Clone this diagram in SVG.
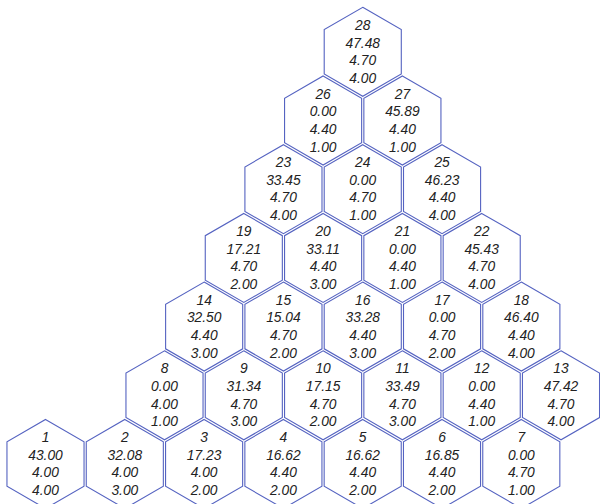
<svg xmlns="http://www.w3.org/2000/svg" xmlns:xlink="http://www.w3.org/1999/xlink" width="600" height="504" viewBox="0 0 600 504">
<style>
.h{fill:#fff;stroke:#5563c1;stroke-width:1.1}
text{font-family:"Liberation Sans",Arial,sans-serif;font-style:italic;font-size:13.8px;fill:#222;text-anchor:middle}
</style>
<defs>
<polygon id="hex" points="0,-44.5 38.54,-22.25 38.54,22.25 0,44.5 -38.54,22.25 -38.54,-22.25"/>
</defs>
<rect width="600" height="504" fill="#fff"/>
<g id="n1" transform="translate(45.5,464)"><use href="#hex" class="h"/><text y="-22">1</text><text y="-4.3">43.00</text><text y="13.3">4.00</text><text y="31">4.00</text></g>
<g id="n2" transform="translate(124.8,464)"><use href="#hex" class="h"/><text y="-22">2</text><text y="-4.3">32.08</text><text y="13.3">4.00</text><text y="31">3.00</text></g>
<g id="n3" transform="translate(204.1,464)"><use href="#hex" class="h"/><text y="-22">3</text><text y="-4.3">17.23</text><text y="13.3">4.00</text><text y="31">2.00</text></g>
<g id="n4" transform="translate(283.4,464)"><use href="#hex" class="h"/><text y="-22">4</text><text y="-4.3">16.62</text><text y="13.3">4.40</text><text y="31">2.00</text></g>
<g id="n5" transform="translate(362.7,464)"><use href="#hex" class="h"/><text y="-22">5</text><text y="-4.3">16.62</text><text y="13.3">4.40</text><text y="31">2.00</text></g>
<g id="n6" transform="translate(442,464)"><use href="#hex" class="h"/><text y="-22">6</text><text y="-4.3">16.85</text><text y="13.3">4.40</text><text y="31">2.00</text></g>
<g id="n7" transform="translate(521.3,464)"><use href="#hex" class="h"/><text y="-22">7</text><text y="-4.3">0.00</text><text y="13.3">4.70</text><text y="31">1.00</text></g>
<g id="n8" transform="translate(164.5,395.3)"><use href="#hex" class="h"/><text y="-22">8</text><text y="-4.3">0.00</text><text y="13.3">4.00</text><text y="31">1.00</text></g>
<g id="n9" transform="translate(243.8,395.3)"><use href="#hex" class="h"/><text y="-22">9</text><text y="-4.3">31.34</text><text y="13.3">4.70</text><text y="31">3.00</text></g>
<g id="n10" transform="translate(323.1,395.3)"><use href="#hex" class="h"/><text y="-22">10</text><text y="-4.3">17.15</text><text y="13.3">4.70</text><text y="31">2.00</text></g>
<g id="n11" transform="translate(402.4,395.3)"><use href="#hex" class="h"/><text y="-22">11</text><text y="-4.3">33.49</text><text y="13.3">4.70</text><text y="31">3.00</text></g>
<g id="n12" transform="translate(481.7,395.3)"><use href="#hex" class="h"/><text y="-22">12</text><text y="-4.3">0.00</text><text y="13.3">4.40</text><text y="31">1.00</text></g>
<g id="n13" transform="translate(561,395.3)"><use href="#hex" class="h"/><text y="-22">13</text><text y="-4.3">47.42</text><text y="13.3">4.70</text><text y="31">4.00</text></g>
<g id="n14" transform="translate(204.15,326.6)"><use href="#hex" class="h"/><text y="-22">14</text><text y="-4.3">32.50</text><text y="13.3">4.40</text><text y="31">3.00</text></g>
<g id="n15" transform="translate(283.45,326.6)"><use href="#hex" class="h"/><text y="-22">15</text><text y="-4.3">15.04</text><text y="13.3">4.70</text><text y="31">2.00</text></g>
<g id="n16" transform="translate(362.75,326.6)"><use href="#hex" class="h"/><text y="-22">16</text><text y="-4.3">33.28</text><text y="13.3">4.40</text><text y="31">3.00</text></g>
<g id="n17" transform="translate(442.05,326.6)"><use href="#hex" class="h"/><text y="-22">17</text><text y="-4.3">0.00</text><text y="13.3">4.70</text><text y="31">2.00</text></g>
<g id="n18" transform="translate(521.35,326.6)"><use href="#hex" class="h"/><text y="-22">18</text><text y="-4.3">46.40</text><text y="13.3">4.40</text><text y="31">4.00</text></g>
<g id="n19" transform="translate(243.8,257.9)"><use href="#hex" class="h"/><text y="-22">19</text><text y="-4.3">17.21</text><text y="13.3">4.70</text><text y="31">2.00</text></g>
<g id="n20" transform="translate(323.1,257.9)"><use href="#hex" class="h"/><text y="-22">20</text><text y="-4.3">33.11</text><text y="13.3">4.40</text><text y="31">3.00</text></g>
<g id="n21" transform="translate(402.4,257.9)"><use href="#hex" class="h"/><text y="-22">21</text><text y="-4.3">0.00</text><text y="13.3">4.40</text><text y="31">1.00</text></g>
<g id="n22" transform="translate(481.7,257.9)"><use href="#hex" class="h"/><text y="-22">22</text><text y="-4.3">45.43</text><text y="13.3">4.70</text><text y="31">4.00</text></g>
<g id="n23" transform="translate(283.45,189.2)"><use href="#hex" class="h"/><text y="-22">23</text><text y="-4.3">33.45</text><text y="13.3">4.70</text><text y="31">4.00</text></g>
<g id="n24" transform="translate(362.75,189.2)"><use href="#hex" class="h"/><text y="-22">24</text><text y="-4.3">0.00</text><text y="13.3">4.70</text><text y="31">1.00</text></g>
<g id="n25" transform="translate(442.05,189.2)"><use href="#hex" class="h"/><text y="-22">25</text><text y="-4.3">46.23</text><text y="13.3">4.40</text><text y="31">4.00</text></g>
<g id="n26" transform="translate(323.1,120.5)"><use href="#hex" class="h"/><text y="-22">26</text><text y="-4.3">0.00</text><text y="13.3">4.40</text><text y="31">1.00</text></g>
<g id="n27" transform="translate(402.4,120.5)"><use href="#hex" class="h"/><text y="-22">27</text><text y="-4.3">45.89</text><text y="13.3">4.40</text><text y="31">1.00</text></g>
<g id="n28" transform="translate(362.75,51.8)"><use href="#hex" class="h"/><text y="-22">28</text><text y="-4.3">47.48</text><text y="13.3">4.70</text><text y="31">4.00</text></g>
</svg>
